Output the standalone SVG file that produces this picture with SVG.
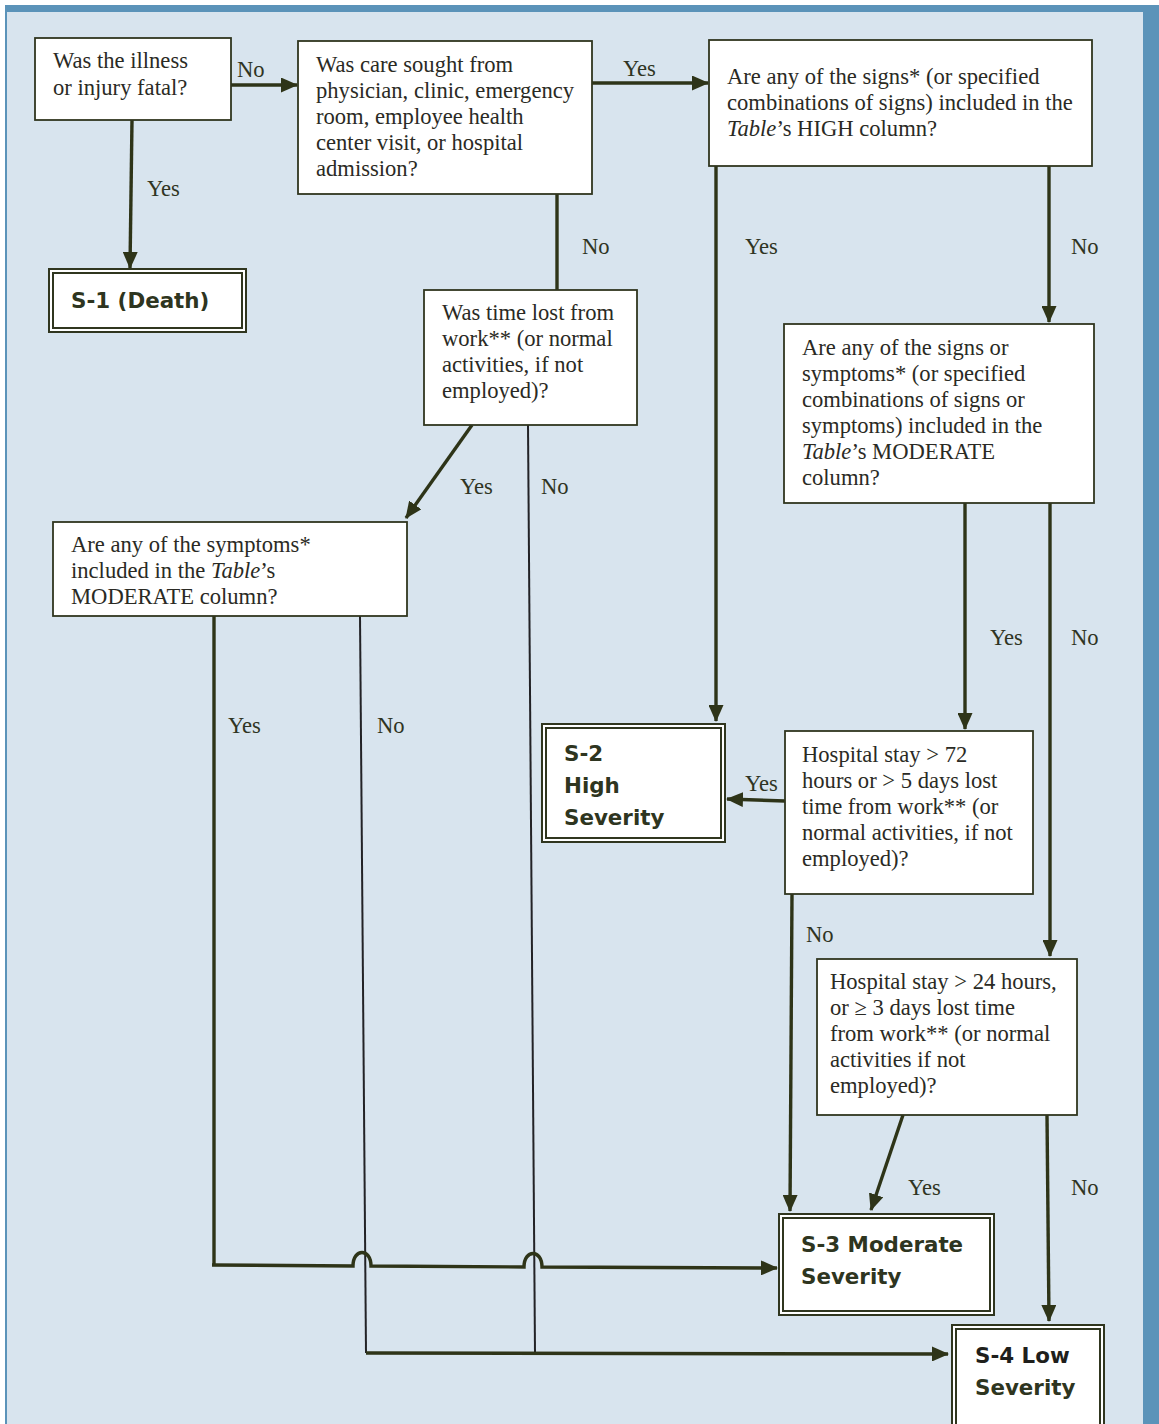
<svg xmlns="http://www.w3.org/2000/svg" width="1159" height="1424" viewBox="0 0 1159 1424">
<style>
.q{font-family:"Liberation Serif","Times New Roman",serif;font-size:22.6px;fill:#2a2a24}
.lb{font-family:"Liberation Serif","Times New Roman",serif;font-size:22.6px;fill:#2f3423}
.b{font-family:"DejaVu Sans",Verdana,sans-serif;font-weight:bold;font-size:21.4px;fill:#2e3520}
.box{fill:#fff;stroke:#30361f;stroke-width:1.8}
.dbl{fill:#fff;stroke:#30361f;stroke-width:2}
.c{fill:none;stroke:#2e3418;stroke-width:3.4}
.t{fill:none;stroke:#222226;stroke-width:2}
</style>
<defs>
<marker id="ah" markerUnits="userSpaceOnUse" markerWidth="17" markerHeight="15" refX="16" refY="7.5" orient="auto">
<path d="M0,0 L17,7.5 L0,15 z" fill="#2e3418"/>
</marker>
</defs>
<rect x="0" y="0" width="1159" height="1424" fill="#fff"/>
<rect x="5" y="5" width="1154" height="1419" fill="#5b93b9"/>
<rect x="7" y="12" width="1136" height="1412" fill="#d8e4ee"/>

<g id="connectors">
<path class="c" d="M231,85 L297,85" marker-end="url(#ah)"/>
<path class="c" d="M592,83 L708,83" marker-end="url(#ah)"/>
<path class="c" d="M132,120 L130,268" marker-end="url(#ah)"/>
<path class="c" d="M557,194 L557,290"/>
<path class="c" d="M472,425 L406,518" marker-end="url(#ah)"/>
<path class="t" d="M528,425 L535,1353"/>
<path class="t" d="M360,616 L366,1353"/>
<path class="c" d="M214,616 L214,1265"/>
<path class="c" d="M212,1265 L353,1266 C353,1248 371,1248 371,1266 L524,1267 C524,1249 542,1249 542,1267 L777,1268" marker-end="url(#ah)"/>
<path class="c" d="M366,1353 L948,1354" marker-end="url(#ah)"/>
<path class="c" d="M716,166 L716,721" marker-end="url(#ah)"/>
<path class="c" d="M1049,166 L1049,322" marker-end="url(#ah)"/>
<path class="c" d="M965,503 L965,729" marker-end="url(#ah)"/>
<path class="c" d="M1050,503 L1050,956" marker-end="url(#ah)"/>
<path class="c" d="M785,801 L727,799" marker-end="url(#ah)"/>
<path class="c" d="M792,894 L790,1211" marker-end="url(#ah)"/>
<path class="c" d="M903,1115 L871,1210" marker-end="url(#ah)"/>
<path class="c" d="M1047,1115 L1049,1321" marker-end="url(#ah)"/>
<text class="lb" x="237" y="77">No</text>
<text class="lb" x="623" y="76">Yes</text>
<text class="lb" x="147" y="196">Yes</text>
<text class="lb" x="582" y="254">No</text>
<text class="lb" x="745" y="254">Yes</text>
<text class="lb" x="1071" y="254">No</text>
<text class="lb" x="460" y="494">Yes</text>
<text class="lb" x="541" y="494">No</text>
<text class="lb" x="990" y="645">Yes</text>
<text class="lb" x="1071" y="645">No</text>
<text class="lb" x="228" y="733">Yes</text>
<text class="lb" x="377" y="733">No</text>
<text class="lb" x="745" y="791">Yes</text>
<text class="lb" x="806" y="942">No</text>
<text class="lb" x="908" y="1195">Yes</text>
<text class="lb" x="1071" y="1195">No</text>
</g>

<g id="q-fatal">
<rect class="box" x="35" y="38" width="196" height="82"/>
<text class="q" x="53" y="68">Was the illness</text>
<text class="q" x="53" y="95">or injury fatal?</text>
</g>
<g id="q-care">
<rect class="box" x="298" y="41" width="294" height="153"/>
<text class="q" x="316" y="72">Was care sought from</text>
<text class="q" x="316" y="98">physician, clinic, emergency</text>
<text class="q" x="316" y="124">room, employee health</text>
<text class="q" x="316" y="150">center visit, or hospital</text>
<text class="q" x="316" y="176">admission?</text>
</g>
<g id="q-high">
<rect class="box" x="709" y="40" width="383" height="126"/>
<text class="q" x="727" y="84">Are any of the signs* (or specified</text>
<text class="q" x="727" y="110">combinations of signs) included in the</text>
<text class="q" x="727" y="136"><tspan font-style="italic">Table</tspan>’s HIGH column?</text>
</g>
<g id="s1">
<rect class="dbl" x="49" y="269" width="197" height="63"/>
<rect class="dbl" x="53" y="273" width="189" height="55"/>
<text class="b" x="71" y="308">S-1 (Death)</text>
</g>
<g id="q-timelost">
<rect class="box" x="424" y="290" width="213" height="135"/>
<text class="q" x="442" y="320">Was time lost from</text>
<text class="q" x="442" y="346">work** (or normal</text>
<text class="q" x="442" y="372">activities, if not</text>
<text class="q" x="442" y="398">employed)?</text>
</g>
<g id="q-moderate-signs">
<rect class="box" x="784" y="324" width="310" height="179"/>
<text class="q" x="802" y="355">Are any of the signs or</text>
<text class="q" x="802" y="381">symptoms* (or specified</text>
<text class="q" x="802" y="407">combinations of signs or</text>
<text class="q" x="802" y="433">symptoms) included in the</text>
<text class="q" x="802" y="459"><tspan font-style="italic">Table</tspan>’s MODERATE</text>
<text class="q" x="802" y="485">column?</text>
</g>
<g id="q-moderate-symptoms">
<rect class="box" x="53" y="522" width="354" height="94"/>
<text class="q" x="71" y="552">Are any of the symptoms*</text>
<text class="q" x="71" y="578">included in the <tspan font-style="italic">Table</tspan>’s</text>
<text class="q" x="71" y="604">MODERATE column?</text>
</g>
<g id="s2">
<rect class="dbl" x="542" y="724" width="183" height="118"/>
<rect class="dbl" x="546" y="728" width="175" height="110"/>
<text class="b" x="564" y="761">S-2</text>
<text class="b" x="564" y="793">High</text>
<text class="b" x="564" y="825">Severity</text>
</g>
<g id="q-72h">
<rect class="box" x="785" y="731" width="248" height="163"/>
<text class="q" x="802" y="762">Hospital stay &gt; 72</text>
<text class="q" x="802" y="788">hours or &gt; 5 days lost</text>
<text class="q" x="802" y="814">time from work** (or</text>
<text class="q" x="802" y="840">normal activities, if not</text>
<text class="q" x="802" y="866">employed)?</text>
</g>
<g id="q-24h">
<rect class="box" x="817" y="959" width="260" height="156"/>
<text class="q" x="830" y="989">Hospital stay &gt; 24 hours,</text>
<text class="q" x="830" y="1015">or ≥ 3 days lost time</text>
<text class="q" x="830" y="1041">from work** (or normal</text>
<text class="q" x="830" y="1067">activities if not</text>
<text class="q" x="830" y="1093">employed)?</text>
</g>
<g id="s3">
<rect class="dbl" x="779" y="1214" width="215" height="101"/>
<rect class="dbl" x="783" y="1218" width="207" height="93"/>
<text class="b" x="801" y="1252">S-3 Moderate</text>
<text class="b" x="801" y="1284">Severity</text>
</g>
<g id="s4">
<rect class="dbl" x="952" y="1325" width="152" height="110"/>
<rect class="dbl" x="956" y="1329" width="144" height="102"/>
<text class="b" x="975" y="1363" style="fill:#1f1f1c">S-4 Low</text>
<text class="b" x="975" y="1395">Severity</text>
</g>
</svg>
